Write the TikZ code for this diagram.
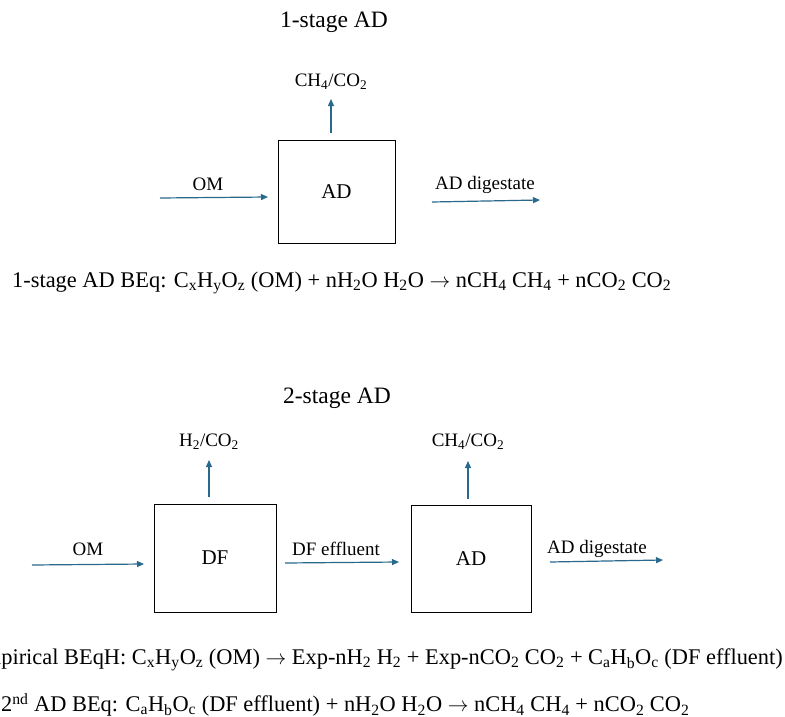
\documentclass[tikz,border=0pt]{standalone}
\usepackage{fontspec}
\setmainfont{Liberation Serif}
\usetikzlibrary{arrows.meta}
\definecolor{flowc}{RGB}{40,105,140}
\tikzset{
  flow/.style={draw=flowc, line width=1.2pt, -{Triangle[length=7pt,width=6pt]}},
  unit/.style={draw=black, line width=1pt, minimum width=#1, inner sep=0pt},
  lbl/.style={font=\fontsize{19}{23}\selectfont, inner sep=0pt},
  ttl/.style={font=\fontsize{23.5}{28}\selectfont, inner sep=0pt},
  eqn/.style={font=\fontsize{22.4}{27}\selectfont, inner sep=0pt}
}
\newcommand{\sbs}[1]{\textsubscript{#1}}
\newcommand{\yields}{$\rightarrow$}
\begin{document}
\begin{tikzpicture}[x=1pt,y=-1pt]
\useasboundingbox (0,0) rectangle (785,717);
% ---- 1-stage
\node[ttl] (t1) at (334,22) {1-stage AD};
\node[unit=117pt, minimum height=103pt, font=\fontsize{21}{25}\selectfont] (ad1) at (336.5,191.5) {AD};
\node[lbl] (g1) at (331,82) {CH\sbs{4}/CO\sbs{2}};
\coordinate (g1s) at (331,133);
\coordinate (g1e) at (331,99);
\draw[flow] (g1s) -- (g1e);
\node[lbl] (om1) at (208,184) {OM};
\coordinate (om1s) at (160,198);
\coordinate (om1e) at (268,197);
\draw[flow] (om1s) -- (om1e);
\node[lbl] (dg1) at (485,185) {AD digestate};
\coordinate (dg1s) at (432,202);
\coordinate (dg1e) at (540,200);
\draw[flow] (dg1s) -- (dg1e);
\node[eqn, anchor=west] (eq1) at (12,283) {1-stage AD BEq: C\sbs{x}H\sbs{y}O\sbs{z} (OM) + nH\sbs{2}O H\sbs{2}O \yields{} nCH\sbs{4} CH\sbs{4} + nCO\sbs{2} CO\sbs{2}};
% ---- 2-stage
\node[ttl] (t2) at (337,398) {2-stage AD};
\node[unit=122pt, minimum height=108pt, font=\fontsize{21}{25}\selectfont] (df) at (215,558) {DF};
\node[unit=120pt, minimum height=107pt, font=\fontsize{21}{25}\selectfont] (ad2) at (471,558.5) {AD};
\node[lbl] (g2) at (209,442) {H\sbs{2}/CO\sbs{2}};
\coordinate (g2s) at (209,497);
\coordinate (g2e) at (209,460);
\draw[flow] (g2s) -- (g2e);
\node[lbl] (g3) at (468,442) {CH\sbs{4}/CO\sbs{2}};
\coordinate (g3s) at (468,499);
\coordinate (g3e) at (468,461);
\draw[flow] (g3s) -- (g3e);
\node[lbl] (om2) at (88,549) {OM};
\coordinate (om2s) at (32,565);
\coordinate (om2e) at (144,564);
\draw[flow] (om2s) -- (om2e);
\node[lbl] (dfe) at (336,549) {DF effluent};
\coordinate (dfes) at (285,563);
\coordinate (dfee) at (399,562);
\draw[flow] (dfes) -- (dfee);
\node[lbl] (dg2) at (597,549) {AD digestate};
\coordinate (dg2s) at (550,562);
\coordinate (dg2e) at (663,560);
\draw[flow] (dg2s) -- (dg2e);
\node[eqn, anchor=east] (eq2) at (783,660) {Empirical BEqH: C\sbs{x}H\sbs{y}O\sbs{z} (OM) \yields{} Exp-nH\sbs{2} H\sbs{2} + Exp-nCO\sbs{2} CO\sbs{2} + C\sbs{a}H\sbs{b}O\sbs{c} (DF effluent)};
\node[eqn, anchor=west] (eq3) at (1,705) {2\textsuperscript{nd} AD BEq: C\sbs{a}H\sbs{b}O\sbs{c} (DF effluent) + nH\sbs{2}O H\sbs{2}O \yields{} nCH\sbs{4} CH\sbs{4} + nCO\sbs{2} CO\sbs{2}};
\end{tikzpicture}
\end{document}
